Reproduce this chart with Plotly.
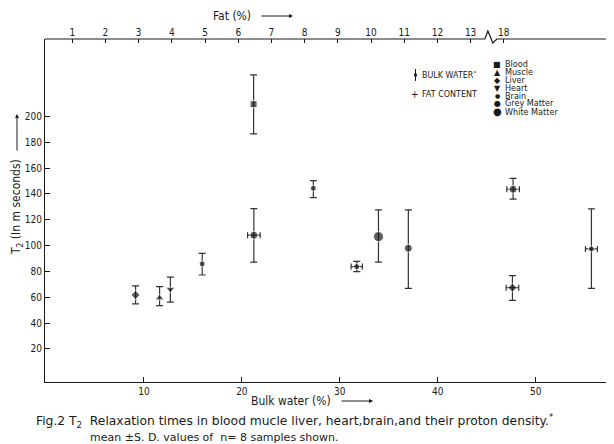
import plotly.graph_objects as go

# ---------------- data ----------------
# Bulk-water points (vertical T2 error bars only)
bw_tissue = ["Liver", "Muscle", "Heart", "Brain", "Blood", "Brain", "White Matter", "Grey Matter"]
bw_water = [9.15, 11.6, 12.7, 15.95, 21.2, 27.3, 33.95, 37.0]
bw_t2 = [61.7, 59.4, 66.2, 85.8, 209.5, 144.4, 106.9, 97.9]
bw_t2_hi = [68.7, 68.2, 75.5, 94.0, 232.2, 150.3, 127.6, 127.6]
bw_t2_lo = [54.8, 53.5, 56.1, 77.2, 186.5, 137.1, 87.1, 66.8]

# Fat-content points (plotted against the top "Fat (%)" scale, with horizontal S.D.)
fat_tissue = ["Grey Matter", "Brain", "Grey Matter", "Liver", "Brain"]
fat_pct = [6.47, 9.57, 18.28, 18.26, 20.64]
fat_sd = [0.19, 0.17, 0.19, 0.19, 0.18]
fat_t2 = [108.0, 83.7, 143.6, 67.4, 97.4]
fat_t2_hi = [128.6, 87.8, 152.1, 76.7, 128.4]
fat_t2_lo = [87.1, 79.8, 135.9, 57.6, 66.9]

# axis ticks
y_ticks = [20, 40, 60, 80, 100, 120, 140, 160, 180, 200]
bw_ticks = [10, 20, 30, 40, 50]
fat_ticks = [1, 2, 3, 4, 5, 6, 7, 8, 9, 10, 11, 12, 13, 18]
fat_break_lo, fat_break_hi = 13, 18  # axis break on the fat scale

legend_names = ["Blood", "Muscle", "Liver", "Heart", "Brain", "Grey Matter", "White Matter"]

# ---------------- styles ----------------
STYLE = {
    "Blood": dict(symbol="square", size=7, glyph="■", gsize=8),
    "Muscle": dict(symbol="triangle-up", size=8, glyph="▲", gsize=8),
    "Liver": dict(symbol="diamond", size=7, glyph="◆", gsize=8),
    "Heart": dict(symbol="triangle-down", size=8, glyph="▼", gsize=8),
    "Brain": dict(symbol="circle", size=6, glyph="●", gsize=6),
    "Grey Matter": dict(symbol="circle", size=8, glyph="●", gsize=8),
    "White Matter": dict(symbol="circle", size=10, glyph="●", gsize=10),
}
INK = "#1a1a1a"
FONT = "DejaVu Sans Condensed, Liberation Sans Narrow, DejaVu Sans, sans-serif"
FONT_W = "DejaVu Sans, sans-serif"

# the page body has an 8px margin: layout is expressed in screen pixels and shifted
OFF = 8
W, H = 614, 444
L, T = 45 - OFF, 39 - OFF
R = W - (614 - OFF)
B = H - (382 - OFF)
PW, PH = W - L - R, H - T - B


def px(x):
    return (x - OFF - L) / PW


def py(y):
    return (H - B - (y - OFF)) / PH


def fat_display(f):
    # compress the broken part of the fat scale (13 ... 18)
    return f if f <= fat_break_lo else f - (fat_break_hi - fat_break_lo - 1)


fig = go.Figure()

fig.add_trace(go.Scatter(
    x=bw_water, y=bw_t2, mode="markers", showlegend=False,
    marker=dict(symbol=[STYLE[t]["symbol"] for t in bw_tissue],
                size=[STYLE[t]["size"] for t in bw_tissue], color=INK),
    error_y=dict(type="data", symmetric=False,
                 array=[h - v for h, v in zip(bw_t2_hi, bw_t2)],
                 arrayminus=[v - l for v, l in zip(bw_t2, bw_t2_lo)],
                 color="#333", thickness=1.2, width=3.5),
))

fig.add_trace(go.Scatter(
    x=[fat_display(f) for f in fat_pct], y=fat_t2, mode="markers", showlegend=False,
    xaxis="x2", yaxis="y",
    marker=dict(symbol=[STYLE[t]["symbol"] for t in fat_tissue],
                size=[STYLE[t]["size"] for t in fat_tissue], color=INK),
    error_y=dict(type="data", symmetric=False,
                 array=[h - v for h, v in zip(fat_t2_hi, fat_t2)],
                 arrayminus=[v - l for v, l in zip(fat_t2, fat_t2_lo)],
                 color="#333", thickness=1.2, width=3.5),
    error_x=dict(type="data", array=fat_sd, color="#333", thickness=1.2, width=3),
))

tickfont = dict(family=FONT, size=10, color=INK)
fig.update_layout(
    width=W, height=H, margin=dict(l=L, r=R, t=T, b=B, autoexpand=False),
    paper_bgcolor="white", plot_bgcolor="white",
    xaxis=dict(range=[-0.1, 58], tickvals=bw_ticks, ticks="inside", ticklen=5,
               tickcolor=INK, showline=True, linecolor=INK, linewidth=1.2,
               showgrid=False, zeroline=False, tickfont=tickfont, automargin=False),
    xaxis2=dict(overlaying="x", side="top", range=[0.178, 17.32],
                tickvals=[fat_display(f) for f in fat_ticks],
                ticktext=[str(f) for f in fat_ticks],
                ticks="inside", ticklen=4, tickcolor=INK, showline=False,
                showgrid=False, zeroline=False, tickfont=tickfont, automargin=False),
    yaxis=dict(range=[-5.7, 260], tickvals=y_ticks, ticks="inside", ticklen=5,
               tickcolor=INK, showline=True, linecolor=INK, linewidth=1.2,
               showgrid=False, zeroline=False, tickfont=tickfont, automargin=False),
    font=dict(family=FONT, color=INK),
)

# top axis line with a break (zig-zag) between 13 and 18
b0 = fat_display(fat_break_lo)
fig.add_shape(type="path", xref="x2", yref="paper", line=dict(color=INK, width=1.2),
              path=(f"M 0.178 1 L {b0 + 0.43} 1 L {b0 + 0.52} {py(31)} "
                    f"L {b0 + 0.67} {py(43)} L {b0 + 0.79} 1 L 17.32 1"))


def note(x, y, text, size, family=FONT, xanchor="center", **kw):
    return dict(x=px(x), y=py(y), xref="paper", yref="paper", text=text,
                xanchor=xanchor, yanchor="middle", showarrow=False,
                font=dict(size=size, family=family, color=INK), **kw)


def arrow(x, y, ax, ay):
    return dict(x=px(x), y=py(y), xref="paper", yref="paper", text="", showarrow=True,
                ax=ax, ay=ay, arrowhead=2, arrowsize=0.8, arrowwidth=1, arrowcolor=INK)


ann = []
# axis titles
ann.append(note(232, 16, "Fat (%)", 12))
ann.append(arrow(293, 16, -33, 0))
ann.append(note(291, 401, "Bulk water (%)", 12))
ann.append(arrow(373, 401, -33, 0))
ann.append(note(17, 207, "T<sub>2</sub> (In m seconds)", 12, textangle=-90))
ann.append(arrow(17, 114, 0, 38))

# key: bulk water / fat content
ann.append(note(420, 75, "BULK WATER<sup>*</sup>", 8, FONT_W, xanchor="left"))
ann.append(note(420, 94, "FAT CONTENT", 8, FONT_W, xanchor="left"))
ann.append(note(414.5, 94, "+", 10))
fig.add_shape(type="line", xref="paper", yref="paper", x0=px(415.5), x1=px(415.5),
              y0=py(69), y1=py(81), line=dict(color=INK, width=1))
fig.add_shape(type="circle", xref="paper", yref="paper", x0=px(414), x1=px(417),
              y0=py(73), y1=py(77), fillcolor=INK, line=dict(color=INK, width=0))

# key: tissues
rows = [64, 72, 80, 88, 95.5, 103, 111.5]
for name, yy in zip(legend_names, rows):
    st = STYLE[name]
    ann.append(note(497, yy, st["glyph"], st["gsize"], "DejaVu Sans"))
    ann.append(note(503, yy, name, 9, xanchor="left"))

# caption
ann.append(note(34, 421, "Fig.2 T<sub>2</sub>  Relaxation times in blood mucle liver, heart,brain,and their proton density.<sup>*</sup>",
                12.3, FONT_W, xanchor="left"))
ann.append(note(88, 437.5, "mean ±S. D. values of  n= 8 samples shown.", 11, FONT_W, xanchor="left"))

fig.update_layout(annotations=ann)
fig.write_html("out.html")
